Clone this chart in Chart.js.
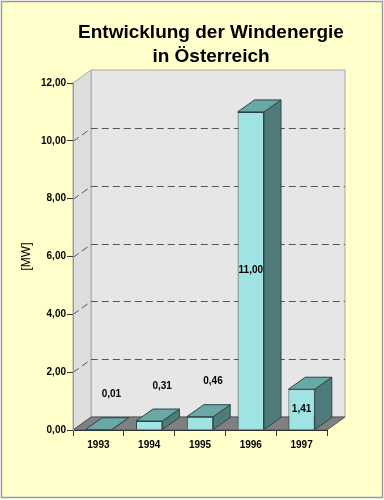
<!DOCTYPE html>
<html>
<head>
<meta charset="utf-8">
<script src="https://cdn.jsdelivr.net/npm/chart.js@4.4.0/dist/chart.umd.min.js"></script>
<style>
html, body { margin: 0; padding: 0; background: #fff; }
canvas { display: block; }
</style>
</head>
<body>
<canvas id="chartContainer" width="384" height="500"></canvas>
<script>
// data
const years = ['1993', '1994', '1995', '1996', '1997'];
const capacityMW = [0.01, 0.31, 0.46, 11.00, 1.41];
const yTicks = [0, 2, 4, 6, 8, 10, 12];
const titleLines = ['Entwicklung der Windenergie', 'in Österreich'];
const axisTitle = '[MW]';

const FONT = '"Liberation Sans", Arial, sans-serif';
// 3d offsets (walls / bars)
const depthX = 18;
const depthY = -13;
const barDepthX = 17;
const barDepthY = -12;

function formatDE(v) {
    return v.toFixed(2).replace('.', ',');
}

function poly(ctx, pts, fill, stroke) {
    ctx.beginPath();
    ctx.moveTo(pts[0][0], pts[0][1]);
    for (let i = 1; i < pts.length; i++) ctx.lineTo(pts[i][0], pts[i][1]);
    ctx.closePath();
    if (fill) { ctx.fillStyle = fill; ctx.fill(); }
    if (stroke) { ctx.strokeStyle = stroke; ctx.lineWidth = 1; ctx.stroke(); }
}

const frame3d = {
    id: 'frame3d',
    beforeDraw(chart) {
        const ctx = chart.ctx;
        const { left, right, top, bottom } = chart.chartArea;
        const yScale = chart.scales.y;
        ctx.save();
        ctx.fillStyle = '#ffffff';
        ctx.fillRect(0, 0, chart.width, chart.height);
        ctx.fillStyle = '#ffffcc';
        ctx.fillRect(1, 1, 382, 497);
        ctx.strokeStyle = '#9a9a9a';
        ctx.lineWidth = 1.5;
        ctx.strokeRect(1.5, 1.5, 381, 496);

        // title
        ctx.fillStyle = '#000';
        ctx.font = 'bold 19px ' + FONT;
        ctx.textAlign = 'center';
        ctx.textBaseline = 'alphabetic';
        const cx = (left + right + depthX) / 2 + 2;
        ctx.fillText(titleLines[0], cx, 38);
        ctx.fillText(titleLines[1], cx, 62);

        // back wall
        poly(ctx, [[left + depthX, top + depthY], [right + depthX, top + depthY],
            [right + depthX, bottom + depthY], [left + depthX, bottom + depthY]], '#e6e6e6', '#a8a8a8');
        // left wall
        poly(ctx, [[left, bottom], [left, top], [left + depthX, top + depthY],
            [left + depthX, bottom + depthY]], '#dedede', '#a8a8a8');
        // floor
        poly(ctx, [[left, bottom], [right, bottom], [right + depthX, bottom + depthY],
            [left + depthX, bottom + depthY]], '#808080', '#555555');

        // grid lines
        ctx.strokeStyle = '#555';
        ctx.lineWidth = 1;
        ctx.setLineDash([7, 4]);
        yTicks.forEach(v => {
            if (v === 0 || v === yTicks[yTicks.length - 1]) return;
            const y = Math.round(yScale.getPixelForValue(v)) + 0.5;
            ctx.beginPath();
            ctx.moveTo(left, y);
            ctx.lineTo(left + depthX, y + depthY);
            ctx.lineTo(right + depthX, y + depthY);
            ctx.stroke();
        });
        ctx.restore();
    },
    afterDatasetsDraw(chart) {
        const ctx = chart.ctx;
        const meta = chart.getDatasetMeta(0);
        ctx.save();
        meta.data.forEach((bar, i) => {
            const p = bar.getProps(['x', 'y', 'base', 'width'], true);
            const l = p.x - p.width / 2;
            const r = p.x + p.width / 2;
            const t = p.y;
            const b = p.base;
            poly(ctx, [[r, b], [r, t], [r + barDepthX, t + barDepthY], [r + barDepthX, b + barDepthY]], '#4f7c7a', '#2a4646');
            poly(ctx, [[l, t], [r, t], [r + barDepthX, t + barDepthY], [l + barDepthX, t + barDepthY]], '#6aa8a6', '#2a4646');

            // value label
            ctx.fillStyle = '#000';
            ctx.font = 'bold 10px ' + FONT;
            ctx.textAlign = 'center';
            ctx.textBaseline = 'middle';
            const txt = formatDE(capacityMW[i]);
            if (b - t > 24) {
                ctx.fillText(txt, p.x, (t + b) / 2);
            } else {
                ctx.fillText(txt, p.x + 13, t - 35);
            }
        });
        ctx.restore();
    }
};

const ctx = document.getElementById('chartContainer').getContext('2d');
new Chart(ctx, {
    type: 'bar',
    data: {
        labels: years,
        datasets: [{
            data: capacityMW,
            backgroundColor: '#9fe3e3',
            borderColor: '#2a4646',
            borderWidth: 1,
            barPercentage: 0.52,
            categoryPercentage: 1
        }]
    },
    options: {
        responsive: false,
        animation: false,
        devicePixelRatio: 1,
        layout: { padding: { top: 83, right: 57, bottom: 40, left: 0 } },
        plugins: {
            legend: { display: false },
            tooltip: { enabled: false },
            title: { display: false }
        },
        scales: {
            x: {
                grid: { offset: true, drawOnChartArea: false, tickLength: 6, color: '#333' },
                border: { color: '#333' },
                ticks: { color: '#000', padding: 3, font: { family: FONT, size: 10, weight: 'bold' } },
                afterFit(s) { s.height = 30; }
            },
            y: {
                min: 0,
                max: 12,
                afterBuildTicks(s) { s.ticks = yTicks.map(v => ({ value: v })); },
                ticks: { color: '#000', padding: 1, callback: v => formatDE(v), font: { family: FONT, size: 10, weight: 'bold' } },
                grid: { drawOnChartArea: false, tickLength: 6, color: '#333' },
                border: { color: '#999' },
                title: { display: true, text: axisTitle, color: '#000', padding: { top: 19, bottom: 0 }, font: { family: FONT, size: 12 } },
                afterFit(s) { s.width = 73; }
            }
        }
    },
    plugins: [frame3d]
});
</script>
</body>
</html>
